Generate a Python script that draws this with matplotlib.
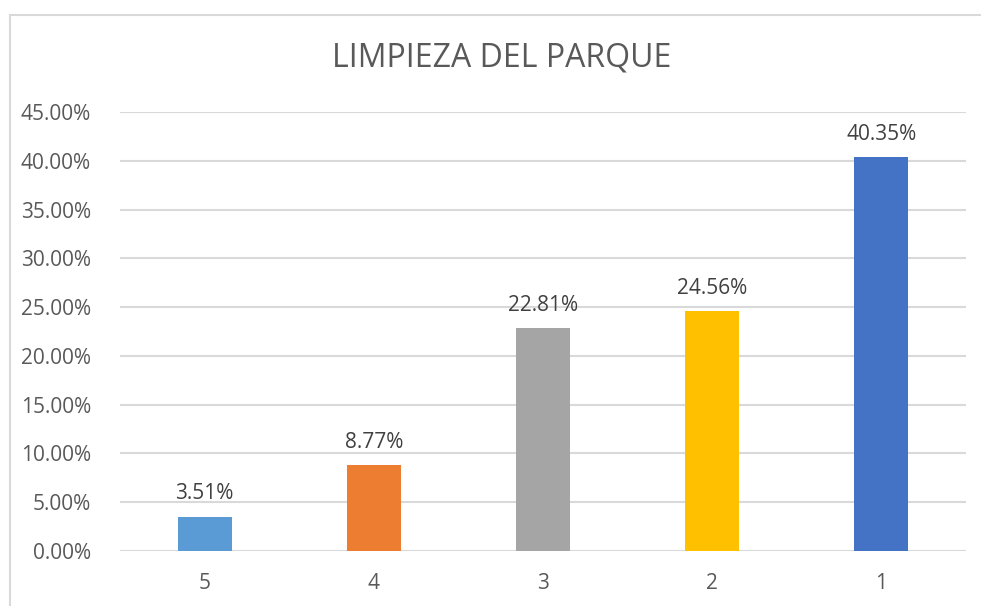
import matplotlib
matplotlib.use("Agg")
import matplotlib.pyplot as plt
from matplotlib.lines import Line2D
from matplotlib.ticker import FuncFormatter, MultipleLocator

categories = ["5", "4", "3", "2", "1"]
values = [0.0351, 0.0877, 0.2281, 0.2456, 0.4035]
colors = ["#5B9BD5", "#ED7D31", "#A5A5A5", "#FFC000", "#4472C4"]
title = "LIMPIEZA DEL PARQUE"

W, H = 981, 606
fig = plt.figure(figsize=(W / 100, H / 100), dpi=100)
fig.patch.set_facecolor("white")

# outer chart border (only left and top edges visible in the crop)
bx, by = 9.5 / W, (H - 14.5) / H
fig.add_artist(Line2D([bx, bx], [-0.01, by], transform=fig.transFigure,
                      color="#D9D9D9", linewidth=1.5, solid_capstyle="projecting"))
fig.add_artist(Line2D([bx, 1.02], [by, by], transform=fig.transFigure,
                      color="#D9D9D9", linewidth=1.5, solid_capstyle="butt"))

left, right = 120 / W, 966 / W
bottom, top = (H - 551) / H, (H - 112) / H
ax = fig.add_axes([left, bottom, right - left, top - bottom])

x = list(range(len(categories)))
ax.bar(x, values, width=0.32, color=colors, zorder=3)
ax.set_xlim(-0.5, len(categories) - 0.5)
ax.set_ylim(0, 0.45)
ax.yaxis.set_major_locator(MultipleLocator(0.05))
ax.yaxis.set_major_formatter(FuncFormatter(lambda v, p: f"{v*100:.2f}%"))
ax.set_xticks(x)
ax.set_xticklabels(categories)

font = "Open Sans"
for lab in ax.get_yticklabels() + ax.get_xticklabels():
    lab.set_fontfamily(font)
    lab.set_fontsize(15)
    lab.set_color("#595959")

ax.tick_params(axis="both", length=0)
ax.tick_params(axis="y", pad=21)
ax.tick_params(axis="x", pad=16)
ax.grid(axis="y", color="#D9D9D9", linewidth=1.5, zorder=0)
for s in ax.spines.values():
    s.set_visible(False)

for xi, v in zip(x, values):
    ax.annotate(f"{v*100:.2f}%", (xi, v), xytext=(0, 9), textcoords="offset points",
                ha="center", va="bottom", fontsize=15, family=font, color="#404040")

fig.text(502 / W, (H - 58) / H, title, ha="center", va="center", fontsize=23,
         family=font, fontweight="normal", color="#595959")

fig.savefig("out.png", dpi=100, facecolor="white")
